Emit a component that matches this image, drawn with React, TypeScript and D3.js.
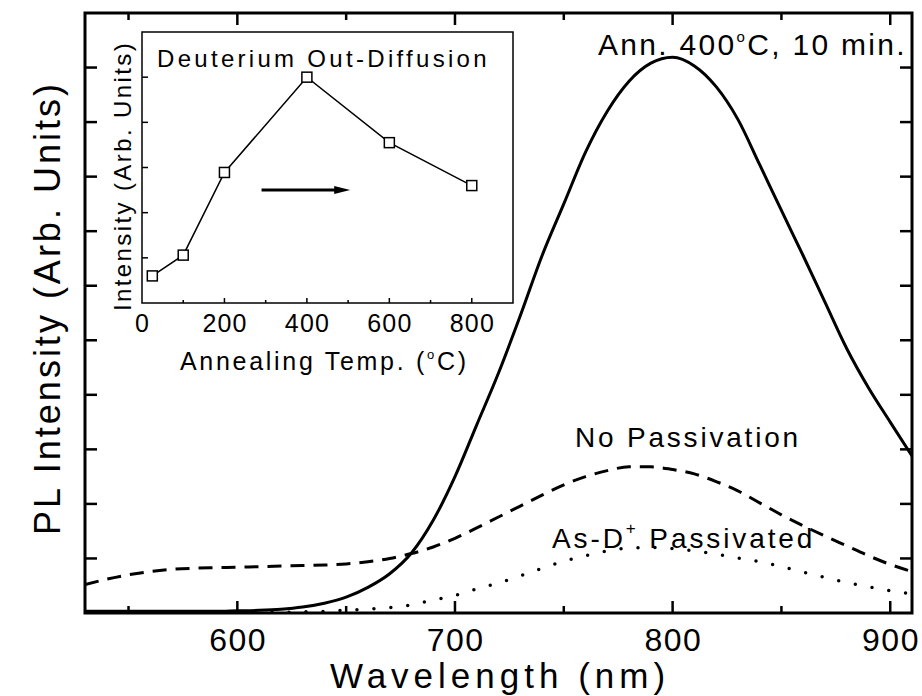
import React from 'react';
import * as d3 from 'd3';

// ---- Main chart data ----
const wavelength = [530, 540, 550, 560, 570, 580, 590, 600, 610, 620, 630, 640, 650, 660, 670, 680, 690, 700, 710, 720, 730, 740, 750, 760, 770, 780, 790, 800, 810, 820, 830, 840, 850, 860, 870, 880, 890, 900, 910];
const annealed = [0.03, 0.03, 0.03, 0.03, 0.03, 0.03, 0.03, 0.04, 0.05, 0.07, 0.11, 0.18, 0.29, 0.47, 0.72, 1.1, 1.7, 2.5, 3.45, 4.4, 5.45, 6.55, 7.5, 8.45, 9.2, 9.75, 10.08, 10.19, 10.03, 9.65, 9.05, 8.22, 7.38, 6.55, 5.7, 4.85, 4.13, 3.5, 2.88];
const noPassivation = [0.52, 0.62, 0.7, 0.76, 0.8, 0.82, 0.83, 0.84, 0.85, 0.86, 0.87, 0.88, 0.9, 0.94, 1.0, 1.09, 1.21, 1.37, 1.56, 1.76, 1.96, 2.16, 2.35, 2.5, 2.61, 2.68, 2.68, 2.63, 2.55, 2.41, 2.24, 2.02, 1.8, 1.6, 1.41, 1.23, 1.05, 0.89, 0.76];
const asPassivated = [0, 0, 0, 0, 0, 0, 0, 0, 0.01, 0.01, 0.02, 0.03, 0.05, 0.07, 0.1, 0.15, 0.24, 0.32, 0.44, 0.55, 0.68, 0.82, 0.95, 1.05, 1.14, 1.19, 1.2, 1.18, 1.14, 1.08, 1.01, 0.94, 0.85, 0.75, 0.65, 0.56, 0.48, 0.41, 0.35];

const xDomain = [530, 910];
const yDomain = [0, 11];
const xMajorTicks = [600, 700, 800, 900];
const xMinorTicks = [550, 650, 750, 850];
const yTicks = [1, 2, 3, 4, 5, 6, 7, 8, 9, 10];

// ---- Inset data ----
const insetTemps = [25, 100, 200, 400, 600, 800];
const insetIntensity = [0.6, 1.06, 2.89, 5.0, 3.55, 2.6];
const insetXDomain = [0, 900];
const insetYDomain = [0, 6];
const insetXLabels = [0, 200, 400, 600, 800];
const insetXMajor = [200, 400, 600, 800];
const insetXMinor = [100, 300, 500, 700];
const insetYTicks = [1, 2, 3, 4, 5];
const insetArrowX = [290, 505];
const insetArrowY = 2.5;

const FONT = "'Liberation Sans', Arial, Helvetica, sans-serif";

export default function App() {
  const W = 922, H = 696;
  const L = 85, T = 13, R = 912, B = 613;
  const x = d3.scaleLinear().domain(xDomain).range([L, R]);
  const y = d3.scaleLinear().domain(yDomain).range([B, T]);

  const mk = (vals: number[]) =>
    d3.line<number>()
      .x((_, i) => x(wavelength[i]))
      .y((d) => y(d))
      .curve(d3.curveMonotoneX)(vals) as string;

  const iL = 142, iT = 32, iR = 513, iB = 303;
  const ix = d3.scaleLinear().domain(insetXDomain).range([iL, iR]);
  const iy = d3.scaleLinear().domain(insetYDomain).range([iB, iT]);
  const insetLine = d3.line<number>()
    .x((_, i) => ix(insetTemps[i]))
    .y((d) => iy(d))(insetIntensity) as string;

  const ax0 = ix(insetArrowX[0]);
  const ax1 = ix(insetArrowX[1]);
  const ay = iy(insetArrowY);

  return (
    <svg width={W} height={H} style={{ position: 'absolute', left: 0, top: 0, background: '#fff' }} fontFamily={FONT}>
      <defs>
        <clipPath id="plotClip">
          <rect x={L} y={T} width={R - L} height={B - T} />
        </clipPath>
      </defs>
      <rect x={0} y={0} width={W} height={H} fill="#fff" />

      {/* curves */}
      <g clipPath="url(#plotClip)" fill="none" stroke="#000">
        <path d={mk(asPassivated)} strokeWidth={3.5} strokeDasharray="0 17" strokeLinecap="round" />
        <path d={mk(noPassivation)} strokeWidth={3} strokeDasharray="14 9" />
        <path d={mk(annealed)} strokeWidth={3} />
      </g>

      {/* frame */}
      <rect x={L} y={T} width={R - L} height={B - T} fill="none" stroke="#000" strokeWidth={3} />

      {/* x ticks bottom & top, y ticks left & right */}
      <g stroke="#000" strokeWidth={2.5}>
        {xMajorTicks.map((t) => (
          <g key={'xm' + t}>
            <line x1={x(t)} x2={x(t)} y1={B} y2={B - 12} />
            <line x1={x(t)} x2={x(t)} y1={T} y2={T + 12} />
          </g>
        ))}
        {xMinorTicks.map((t) => (
          <g key={'xn' + t}>
            <line x1={x(t)} x2={x(t)} y1={B} y2={B - 7} />
            <line x1={x(t)} x2={x(t)} y1={T} y2={T + 7} />
          </g>
        ))}
        {yTicks.map((t) => (
          <g key={'y' + t}>
            <line x1={L} x2={L + 12} y1={y(t)} y2={y(t)} />
            <line x1={R} x2={R - 12} y1={y(t)} y2={y(t)} />
          </g>
        ))}
      </g>

      {/* x tick labels */}
      <g fontSize={32} textAnchor="middle" fill="#000" letterSpacing={1.5}>
        {xMajorTicks.map((t) => (
          <text key={'xl' + t} x={x(t) + 0.75} y={651}>{t}</text>
        ))}
      </g>

      {/* axis titles */}
      <text x={500} y={688} fontSize={35} textAnchor="middle" letterSpacing={5}>Wavelength (nm)</text>
      <text transform={`translate(60,308) rotate(-90)`} fontSize={36} textAnchor="middle" letterSpacing={3}>PL Intensity (Arb. Units)</text>

      {/* annotations */}
      <text x={598} y={55} fontSize={30} letterSpacing={2.3}>
        Ann. 400<tspan fontSize={15} dy={-13}>o</tspan><tspan dy={13}>C, 10 min.</tspan>
      </text>
      <text x={575} y={447} fontSize={28} letterSpacing={2.8}>No Passivation</text>
      <text x={552} y={548} fontSize={28} letterSpacing={2.9}>
        As-D<tspan fontSize={17} dy={-14}>+</tspan><tspan dy={14}> Passivated</tspan>
      </text>

      {/* inset */}
      <rect x={iL} y={iT} width={iR - iL} height={iB - iT} fill="#fff" stroke="#000" strokeWidth={1.5} />
      <g stroke="#000" strokeWidth={1.5}>
        {insetXMajor.map((t) => (
          <line key={'ixm' + t} x1={ix(t)} x2={ix(t)} y1={iB} y2={iB - 5} />
        ))}
        {insetXMinor.map((t) => (
          <line key={'ixn' + t} x1={ix(t)} x2={ix(t)} y1={iB} y2={iB - 3} />
        ))}
        {insetYTicks.map((t) => (
          <line key={'iy' + t} x1={iL} x2={iL + 6} y1={iy(t)} y2={iy(t)} />
        ))}
      </g>
      <path d={insetLine} fill="none" stroke="#000" strokeWidth={1.5} />
      {insetIntensity.map((v, i) => (
        <rect key={'sq' + i} x={ix(insetTemps[i]) - 5} y={iy(v) - 5} width={10} height={10} fill="#fff" stroke="#000" strokeWidth={1.5} />
      ))}
      {/* arrow */}
      <line x1={ax0} x2={ax1 - 10} y1={ay} y2={ay} stroke="#000" strokeWidth={3} />
      <path d={`M${ax1},${ay} L${ax1 - 16},${ay - 4} L${ax1 - 16},${ay + 4} Z`} fill="#000" />

      <g fontSize={25} textAnchor="middle" letterSpacing={1.2}>
        {insetXLabels.map((t) => (
          <text key={'ixl' + t} x={ix(t) + 0.6} y={332}>{t}</text>
        ))}
      </g>
      <text x={157} y={67} fontSize={24} letterSpacing={3.3}>Deuterium Out-Diffusion</text>
      <text transform={`translate(131,176) rotate(-90)`} fontSize={24} textAnchor="middle" letterSpacing={2.4}>Intensity (Arb. Units)</text>
      <text x={180} y={370} fontSize={25} letterSpacing={2.7}>
        Annealing Temp. (<tspan fontSize={13} dy={-11}>o</tspan><tspan dy={11}>C)</tspan>
      </text>
    </svg>
  );
}
